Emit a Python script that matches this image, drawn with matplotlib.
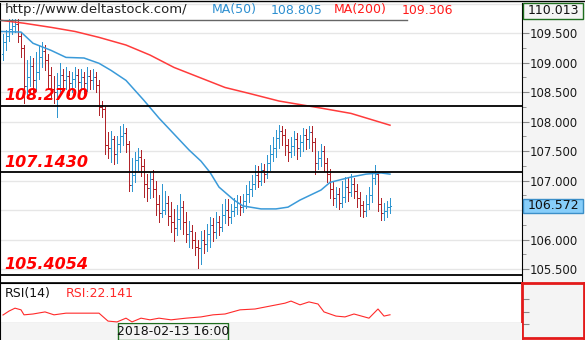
import numpy as np
import matplotlib
matplotlib.use("Agg")
import matplotlib.pyplot as plt
from matplotlib.patches import Rectangle
from matplotlib.lines import Line2D

W, H = 585, 340

# OHLC bars (open of each bar = previous close)
first_open = 109.15
close = [109.35, 109.45, 109.58, 109.62, 109.66, 109.45, 109.25, 108.60, 108.75, 108.95,
         108.70, 108.85, 109.10, 109.20, 109.05, 108.80, 108.55, 108.50, 108.62, 108.80,
         108.70, 108.78, 108.65, 108.72, 108.80, 108.68, 108.75, 108.65, 108.78, 108.70,
         108.76, 108.62, 108.25, 108.22, 107.60, 107.55, 107.70, 107.45, 107.62, 107.75,
         107.80, 107.62, 106.92, 107.10, 107.35, 107.40, 107.25, 106.95, 106.88, 107.02,
         106.85, 106.60, 106.45, 106.50, 106.62, 106.40, 106.30, 106.20, 106.35, 106.55,
         106.30, 106.10, 106.15, 106.00, 105.88, 105.85, 106.00, 105.92, 106.10, 106.25,
         106.12, 106.30, 106.22, 106.42, 106.50, 106.38, 106.48, 106.55, 106.62, 106.55,
         106.65, 106.78, 106.85, 106.95, 107.10, 107.00, 107.18, 107.12, 107.30, 107.45,
         107.55, 107.72, 107.85, 107.78, 107.60, 107.48, 107.58, 107.70, 107.55, 107.65,
         107.78, 107.70, 107.82, 107.65, 107.30, 107.38, 107.50, 107.30, 107.12, 106.85,
         106.70, 106.78, 106.62, 106.72, 106.90, 106.80, 106.95, 106.82, 106.70, 106.58,
         106.48, 106.60, 106.75, 107.05, 107.12, 106.60, 106.45, 106.48, 106.55, 106.572]
high = [109.48, 109.55, 109.74, 109.74, 109.74, 109.74, 109.52, 109.30, 109.05, 109.12,
        109.08, 109.18, 109.28, 109.35, 109.30, 109.15, 108.92, 108.78, 108.82, 109.00,
        108.90, 108.92, 108.86, 108.85, 108.92, 108.90, 108.90, 108.84, 108.92, 108.88,
        108.90, 108.85, 108.70, 108.35, 108.25, 107.82, 107.85, 107.76, 107.75, 107.92,
        107.96, 107.90, 107.68, 107.38, 107.48, 107.55, 107.52, 107.36, 107.12, 107.15,
        107.18, 107.00, 106.75, 106.95, 106.82, 106.74, 106.64, 106.52, 106.58, 106.78,
        106.66, 106.46, 106.32, 106.24, 106.12, 106.00, 106.14, 106.16, 106.26, 106.38,
        106.36, 106.46, 106.40, 106.60, 106.68, 106.68, 106.60, 106.70, 106.76, 106.74,
        106.78, 106.92, 107.00, 107.10, 107.26, 107.24, 107.30, 107.28, 107.44, 107.60,
        107.74, 107.86, 107.95, 107.93, 107.88, 107.70, 107.74, 107.84, 107.80, 107.78,
        107.90, 107.87, 107.92, 107.92, 107.72, 107.50, 107.62, 107.58, 107.38, 107.20,
        106.98, 106.90, 106.88, 107.00, 107.06, 107.04, 107.12, 107.05, 106.94, 106.80,
        106.66, 106.76, 106.90, 107.14, 107.27, 107.15, 106.70, 106.62, 106.66, 106.70]
low = [109.05, 109.22, 109.36, 109.48, 109.52, 109.35, 109.10, 108.32, 108.40, 108.60,
       108.50, 108.52, 108.72, 108.92, 108.88, 108.55, 108.40, 108.32, 108.08, 108.45,
       108.52, 108.55, 108.46, 108.50, 108.58, 108.52, 108.55, 108.48, 108.52, 108.55,
       108.56, 108.50, 108.12, 108.08, 107.45, 107.38, 107.32, 107.28, 107.30, 107.48,
       107.60, 107.48, 106.82, 106.82, 106.98, 107.18, 107.08, 106.72, 106.65, 106.70,
       106.72, 106.42, 106.30, 106.38, 106.44, 106.24, 106.12, 105.98, 106.08, 106.18,
       106.10, 105.96, 105.88, 105.86, 105.74, 105.52, 105.58, 105.78, 105.80, 105.88,
       105.98, 106.02, 106.08, 106.14, 106.28, 106.24, 106.28, 106.40, 106.44, 106.42,
       106.46, 106.54, 106.64, 106.74, 106.86, 106.90, 106.92, 106.98, 107.04, 107.18,
       107.34, 107.40, 107.56, 107.60, 107.44, 107.34, 107.40, 107.44, 107.36, 107.42,
       107.50, 107.54, 107.56, 107.50, 107.12, 107.20, 107.24, 107.16, 106.98, 106.70,
       106.58, 106.55, 106.52, 106.55, 106.64, 106.66, 106.74, 106.70, 106.56, 106.40,
       106.38, 106.40, 106.52, 106.64, 106.95, 106.48, 106.34, 106.33, 106.38, 106.45]

# moving averages, read at a few bars
ma50_bar = [-1, 6, 10, 16, 21, 27, 32, 36, 41, 47, 52, 57, 62, 66, 69, 72, 77, 80,
            86, 91, 95, 99, 106, 109, 116, 121, 126, 129]
ma50 = [109.53, 109.52, 109.33, 109.21, 109.09, 109.08, 108.99, 108.87, 108.70, 108.36,
        108.06, 107.79, 107.52, 107.33, 107.14, 106.89, 106.67, 106.57, 106.52, 106.52,
        106.55, 106.67, 106.84, 106.97, 107.06, 107.11, 107.13, 107.11]
ma200_bar = [-1, 7, 16, 24, 32, 41, 49, 57, 66, 74, 82, 92, 106, 116, 129]
ma200 = [109.72, 109.67, 109.60, 109.53, 109.43, 109.30, 109.13, 108.92, 108.74, 108.58,
         108.48, 108.35, 108.23, 108.14, 107.94]

rsi_bar = [0, 2, 4, 6, 7, 10, 14, 17, 21, 26, 32, 35, 38, 41, 43, 46, 49, 52, 56, 61,
           66, 70, 74, 79, 84, 89, 94, 96, 99, 102, 105, 107, 111, 114, 117, 122, 125,
           127, 129]
rsi = [21.6, 31, 38, 34, 22, 24, 29, 22, 26, 26, 26, 7, 5, 14, 5, 14, 10, 14, 10, 14,
       17, 22, 24, 34, 36, 43, 50, 55, 46, 53, 48, 29, 19, 17, 24, 14, 36, 19, 22.141]

levels = [108.27, 107.143, 105.4054]
level_labels = ["108.2700", "107.1430", "105.4054"]
price_ticks = [105.5, 106.0, 106.5, 107.0, 107.5, 108.0, 108.5, 109.0, 109.5, 110.0]
price_minor = [105.75, 106.25, 106.75, 107.25, 107.75, 108.25, 108.75, 109.25, 109.75]
# 106.500 and 110.000 sit under the price boxes
price_labels = ["105.500", "106.000", "", "107.000", "107.500", "108.000", "108.500",
                "109.000", "109.500", ""]
last_price = 106.572
top_price = 110.013
date_label = "2018-02-13 16:00"

UP = "#2f96d0"
DOWN = "#b0242a"
GRAY_BG = "#f4f4f4"
PX = 0.72  # one pixel in points


def px_rect(x, y, w, h):
    return [x / W, 1 - (y + h) / H, w / W, h / H]


fig = plt.figure(figsize=(W / 100, H / 100), dpi=100)
ax = fig.add_axes(px_rect(0, 3, 522, 280))
ax_p = fig.add_axes(px_rect(522, 3, 63, 280), sharey=ax)
ax_rsi = fig.add_axes(px_rect(0, 283, 522, 40))
ax_rsi_r = fig.add_axes(px_rect(522, 283, 62, 55))
ax_time = fig.add_axes(px_rect(0, 323, 522, 17))

# price bars
x = np.arange(len(close))
opens = np.array([first_open] + close[:-1])
cl = np.array(close)
colors = [UP if c >= o else DOWN for o, c in zip(opens, cl)]
ax.vlines(x, low, high, colors=colors, lw=PX, antialiased=False)
ax.hlines(opens, x - 0.4, x, colors=colors, lw=PX, antialiased=False)
ax.hlines(cl, x, x + 0.4, colors=colors, lw=PX, antialiased=False)

ax.plot(ma50_bar, ma50, color="#3a9ad9", lw=1.1)
ax.plot(ma200_bar, ma200, color="#ff3b3b", lw=1.1)

for lv, lab in zip(levels, level_labels):
    ax.axhline(lv, color="black", lw=1.3)
    ax.annotate(lab, xy=(0, lv), xycoords=ax.get_yaxis_transform(),
                xytext=(3, 4), textcoords="offset points", va="baseline",
                color="#ff0000", fontsize=11.5, fontweight="bold", fontstyle="italic")

ax.set_xlim(-1, 173)
ax.set_ylim(105.263, 110.013)
ax.set_yticks(price_ticks)
ax.set_yticks(price_minor, minor=True)
ax.grid(axis="y", which="major", color="#e6e6e6", lw=1)
ax.tick_params(which="both", left=False, labelleft=False, bottom=False, labelbottom=False)
ax.set_xticks([])
for s in ["top", "right"]:
    ax.spines[s].set_visible(False)
ax.spines["bottom"].set_linewidth(1.2)

# right price scale
ax_p.set_facecolor(GRAY_BG)
for s in ["top", "right", "bottom"]:
    ax_p.spines[s].set_visible(False)
ax_p.spines["left"].set_color("black")
ax_p.set_xticks([])
ax_p.set_yticklabels(price_labels)
ax_p.tick_params(axis="y", which="major", direction="in", length=5, color="#888888",
                 pad=-5.5, labelsize=8.5, labelcolor="#1a1a1a", left=True, labelleft=True)
ax_p.tick_params(axis="y", which="minor", direction="in", length=3, color="#888888", left=True)
for t in ax_p.get_yticklabels():
    t.set_ha("left")

tr = ax_p.get_yaxis_transform()
ax_p.add_patch(Rectangle((0.02, last_price - 0.118), 0.95, 0.236, transform=tr,
                         facecolor="#87cefa", edgecolor="#3c8fc8", lw=1, zorder=5))
ax_p.text(0.5, last_price, "106.572", transform=tr, ha="center", va="center",
          fontsize=9, color="#111111", zorder=6)
ax_p.add_patch(Rectangle((0.02, top_price - 0.27), 0.95, 0.262, transform=tr,
                         facecolor=GRAY_BG, edgecolor="#1e6e1e", lw=1, zorder=5, clip_on=False))
ax_p.text(0.5, top_price - 0.135, "110.013", transform=tr, ha="center", va="center",
          fontsize=9, color="#111111", zorder=6)

# RSI panel
ax_rsi.plot(rsi_bar, rsi, color="#ff2a2a", lw=0.8)
ax_rsi.set_xlim(-1, 173)
ax_rsi.set_ylim(2.4, 98.4)
ax_rsi.set_xticks([])
ax_rsi.set_yticks([])
ax_rsi.spines["right"].set_visible(False)
ax_rsi.text(5 / 522, 0.74, "RSI(14)", transform=ax_rsi.transAxes, va="center",
            fontsize=9, color="#111111")
ax_rsi.text(66 / 522, 0.74, "RSI:22.141", transform=ax_rsi.transAxes, va="center",
            fontsize=9, color="#ff2a2a")

ax_rsi_r.set_facecolor(GRAY_BG)
ax_rsi_r.set_ylim(-33.6, 98.4)
ax_rsi_r.set_xticks([])
ax_rsi_r.set_yticks([0, 30, 60])
ax_rsi_r.tick_params(axis="y", direction="in", length=5, color="#888888", labelleft=False)
for s in ax_rsi_r.spines.values():
    s.set_color("#e31a1a")
    s.set_linewidth(2)

# time strip
ax_time.set_facecolor(GRAY_BG)
ax_time.set_xticks([])
ax_time.set_yticks([])
for s in ["top", "right", "bottom"]:
    ax_time.spines[s].set_visible(False)
ax_time.add_patch(Rectangle((118 / 522, 0.02), 110 / 522, 0.96, transform=ax_time.transAxes,
                            facecolor=GRAY_BG, edgecolor="#1e6e1e", lw=1))
ax_time.text(173 / 522, 0.5, date_label, transform=ax_time.transAxes, ha="center",
             va="center", fontsize=9, color="#111111")

# header
fig.add_artist(Line2D([0, 1], [1 - 0.5 / H] * 2, color="black", lw=1))
fig.add_artist(Line2D([0, 407 / W], [1 - 19.5 / H] * 2, color="#666666", lw=1))
fig.text(5 / W, 1 - 10 / H, "http://www.deltastock.com/", va="center", fontsize=9.5,
         color="#222222")
fig.text(212 / W, 1 - 10 / H, "MA(50)", va="center", fontsize=9, color="#2d8fd0")
fig.text(271 / W, 1 - 10 / H, "108.805", va="center", fontsize=9, color="#2d8fd0")
fig.text(334 / W, 1 - 10 / H, "MA(200)", va="center", fontsize=9, color="#ff1a1a")
fig.text(402 / W, 1 - 10 / H, "109.306", va="center", fontsize=9, color="#ff1a1a")

plt.savefig("out.png", dpi=100)
